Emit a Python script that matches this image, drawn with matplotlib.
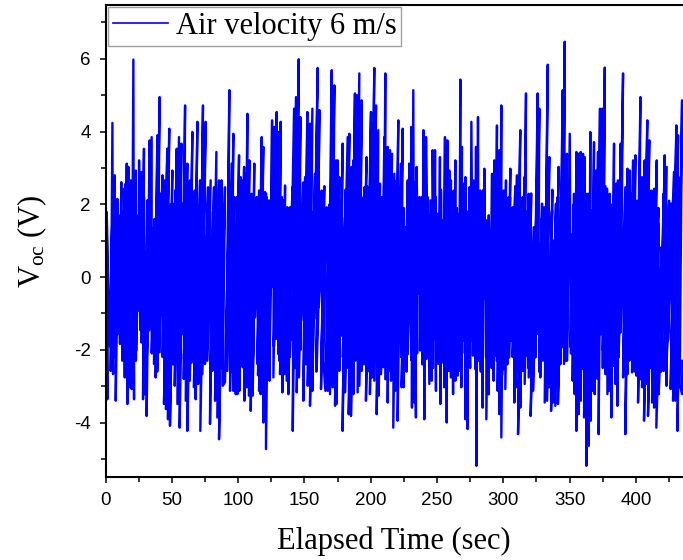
import numpy as np
import matplotlib
matplotlib.use("Agg")
import matplotlib.pyplot as plt
from matplotlib.ticker import MultipleLocator

# ======================================================
# DATOS (picos superiores e inferiores)
# ======================================================

t_up = [0.9, 5.2, 6.9, 8.9, 10.7, 11.9, 14.0, 15.2, 16.0, 17.2,
        19.0, 21.0, 22.8, 25.3, 27.0, 29.0, 31.5, 33.3, 34.8, 36.6,
        39.1, 40.8, 42.9, 44.9, 46.6, 48.1, 50.4, 51.7, 53.7, 55.4,
        57.2, 58.2, 60.0, 61.7, 63.7, 65.5, 67.3, 69.3, 71.3, 73.5,
        75.5, 77.3, 79.3, 81.8, 83.6, 85.6,
        87.6, 90.1, 93.4, 95.1, 96.4, 97.7, 98.9, 100.7, 101.9, 103.2,
        104.5, 105.7, 107.0, 108.5, 110.2, 112.2, 114.0, 115.8, 117.8, 119.0,
        120.3, 121.5, 123.3, 124.1, 125.6, 127.1, 129.1, 130.3, 132.1, 134.1,
        135.4, 137.1, 139.1, 140.9, 142.2, 143.7, 145.7, 147.0, 148.4, 150.5,
        152.2, 154.2, 156.0, 158.0, 160.0, 161.3, 163.0, 164.8, 166.8, 168.6,
        170.6, 172.6, 173.8,
        175.1, 176.3, 178.8, 180.6, 182.6, 183.9, 185.6, 186.9, 188.1, 189.6,
        191.4, 193.2, 195.2, 196.9, 198.2, 200.2, 201.5, 202.7, 204.0, 205.7,
        207.0, 208.2, 210.3, 211.0, 212.8, 214.5, 216.0, 217.8, 219.6, 220.8,
        222.8, 224.1, 225.8, 227.9, 229.1, 230.6, 232.1, 233.4, 234.6, 236.7,
        238.4, 239.7, 241.7, 242.9, 245.0, 246.7, 248.5, 250.5, 252.2, 254.2,
        256.0, 257.8, 259.3, 260.5,
        262.6, 263.8, 265.6, 267.6, 268.8, 270.1, 271.4, 272.6, 274.4, 275.9,
        277.6, 279.4, 280.9, 282.7, 284.4, 285.7, 287.2, 289.0, 291.5, 293.2,
        295.2, 297.0, 298.5, 300.3, 302.0, 304.0, 305.3, 307.1, 309.1, 310.3,
        312.8, 314.6, 315.9, 317.1, 319.1, 320.6, 322.9, 324.2, 325.9, 327.2,
        329.2, 330.9, 333.5, 334.7, 336.7, 338.0, 339.7, 341.7, 343.5, 344.8,
        346.3, 348.0,
        350.1, 351.8, 353.3, 355.1, 356.8, 358.4, 360.1, 361.4, 363.1, 364.4,
        365.6, 366.9, 368.4, 369.9, 371.4, 372.9, 374.7, 376.5, 378.2, 380.2,
        382.0, 383.5, 385.3, 386.5, 388.5, 390.3, 392.0, 393.6, 395.3, 396.6,
        397.8, 399.6, 401.6, 403.4, 404.6, 406.6, 408.6, 410.1, 411.6, 413.7,
        415.7, 417.2, 419.2, 421.7, 423.2, 425.0, 426.7, 428.7, 430.5, 431.8,
        433.5, 434.8]

v_up = [1.79, 4.24, 2.80, 2.15, 1.69, 2.61, 2.43, 2.57, 3.12, 3.03,
        2.66, 5.98, 2.93, 3.21, 2.89, 3.53, 2.11, 3.76, 3.85, 1.37,
        3.90, 4.95, 2.80, 2.66, 3.53, 4.08, 2.93, 2.02, 3.53, 3.85,
        3.67, 2.02, 4.72, 3.12, 2.66, 3.99, 2.38, 4.27, 2.66, 4.72,
        4.27, 2.47, 2.66, 2.47, 3.44, 2.66,
        2.66, 2.47, 5.14, 3.12, 3.94, 1.28, 2.20, 3.35, 2.75, 2.66,
        3.03, 2.84, 4.49, 3.21, 2.29, 3.12, 2.20, 2.38, 3.85, 3.58,
        2.34, 2.20, 2.11, 0.64, 4.31, 4.13, 4.54, 3.99, 4.27, 2.11,
        2.52, 1.92, 1.92, 2.47, 4.63, 4.95, 5.99, 4.40, 1.92, 2.75,
        4.54, 4.22, 4.63, 2.84, 5.75, 4.59, 2.38, 1.56, 1.92, 1.92,
        5.69, 5.27, 3.21,
        3.21, 2.75, 3.67, 1.65, 3.85, 3.94, 3.03, 3.21, 5.05, 5.00,
        5.60, 4.86, 2.47, 3.30, 2.47, 4.54, 4.22, 5.75, 4.72, 4.04,
        2.57, 2.20, 3.85, 5.60, 3.58, 3.49, 3.39, 2.84, 2.66, 4.31,
        3.12, 4.08, 1.37, 2.66, 3.12, 4.13, 5.14, 1.92, 3.03, 2.20,
        2.20, 4.04, 3.85, 2.20, 2.11, 3.49, 3.49, 1.74, 3.30, 1.56,
        3.85, 3.76, 2.93, 2.66,
        2.38, 3.21, 1.74, 5.43, 3.58, 2.57, 2.75, 1.65, 2.47, 4.27,
        2.66, 3.58, 4.40, 2.38, 2.02, 2.98, 1.56, 1.46, 2.84, 3.21,
        4.17, 3.49, 4.72, 2.38, 2.66, 2.20, 2.98, 1.92, 2.29, 2.80,
        4.04, 2.20, 2.75, 5.05, 2.29, 2.20, 1.37, 0.82, 5.05, 4.63,
        2.02, 1.92, 5.84, 3.30, 1.83, 1.00, 2.02, 3.03, 2.20, 5.14,
        6.47, 3.39,
        3.94, 1.19, 2.29, 3.44, 3.39, 3.44, 3.39, 3.30, 2.29, 2.29,
        3.99, 1.83, 3.71, 2.93, 3.44, 4.63, 4.63, 5.76, 2.43, 2.29,
        1.01, 3.67, 2.57, 2.66, 3.67, 5.60, 2.47, 2.98, 2.93, 2.02,
        3.21, 3.35, 1.10, 4.95, 2.75, 3.21, 4.31, 3.76, 2.38, 2.43,
        3.21, 1.46, 0.82, 3.35, 3.03, 2.02, 2.02, 2.89, 4.17, 3.90,
        2.75, 4.86]

t_lo = [0.1, 1.4, 3.9, 5.7, 7.7, 9.4, 10.9, 12.7, 14.5, 16.5,
        18.2, 19.7, 21.5, 23.3, 24.8, 26.5, 28.3, 29.5, 31.0, 32.8,
        34.8, 36.6, 37.8, 39.1, 40.8, 42.4, 44.1, 45.6, 47.1, 48.6,
        50.4, 52.2, 54.2, 55.9, 57.9, 59.2, 60.5, 61.7, 63.5, 65.0,
        66.7, 68.0, 69.8, 71.5, 73.0, 75.0, 76.8, 78.8, 80.6, 82.6,
        84.3, 85.6,
        88.4, 90.1, 91.9, 93.9, 95.1, 96.4, 98.2, 99.4, 100.9, 102.2,
        103.4, 104.7, 106.5, 108.2, 109.5, 111.0, 112.7, 114.5, 115.8, 117.0,
        119.0, 121.0, 122.3, 123.6, 125.3, 126.6, 128.6, 130.4, 131.6, 133.4,
        134.9, 136.6, 137.9, 139.1, 141.2, 142.9, 144.2, 145.9, 147.4, 149.2,
        151.0, 152.5, 154.2, 156.0, 157.5, 159.3, 160.8, 162.5, 164.3, 165.8,
        167.6, 169.3, 171.3, 173.1,
        174.3, 176.3, 177.6, 178.8, 180.6, 182.1, 183.4, 185.1, 186.9, 188.4,
        190.1, 191.4, 193.2, 194.7, 196.4, 197.9, 199.4, 201.0, 202.7, 204.5,
        206.0, 207.7, 209.5, 211.0, 212.8, 214.0, 215.3, 217.0, 218.5, 220.3,
        221.6, 223.3, 224.8, 226.6, 227.9, 229.6, 231.1, 232.9, 234.1, 235.9,
        237.2, 238.7, 240.4, 242.2, 244.2, 246.0, 247.5, 249.2, 251.0, 252.5,
        254.2, 255.5, 257.3, 258.8, 260.5,
        262.1, 263.8, 265.6, 266.8, 268.3, 270.1, 271.4, 273.1, 275.1, 277.1,
        278.9, 279.7, 281.4, 283.4, 284.4, 285.9, 287.2, 289.0, 290.7, 292.7,
        294.0, 295.7, 297.0, 298.5, 300.3, 301.5, 303.3, 304.5, 306.1, 308.3,
        309.6, 311.1, 312.8, 314.6, 316.1, 317.9, 319.1, 320.6, 322.4, 324.2,
        326.2, 327.9, 329.7, 331.2, 333.0, 334.7, 336.0, 337.5, 339.2, 341.2,
        342.2, 344.3, 345.8, 348.0,
        350.8, 352.3, 353.8, 355.1, 356.8, 358.4, 359.4, 360.9, 362.6, 364.4,
        365.9, 367.2, 368.9, 370.4, 371.9, 373.4, 375.2, 377.0, 378.5, 379.7,
        381.5, 383.0, 384.5, 386.0, 387.0, 388.5, 390.3, 392.0, 393.6, 395.3,
        397.1, 398.6, 400.3, 401.6, 403.4, 404.6, 406.1, 407.9, 409.1, 410.9,
        412.2, 413.7, 415.4, 417.2, 419.2, 421.0, 423.0, 424.2, 426.2, 428.0,
        429.7, 431.3, 433.0, 434.8]

v_lo = [-3.31, -3.36, -2.58, -2.67, -3.40, -1.57, -1.84, -2.30, -2.76, -3.49,
        -3.03, -3.08, -3.36, -2.02, -0.92, -1.47, -3.36, -3.22, -3.82, -1.47,
        -2.07, -2.39, -2.76, -2.48, -2.07, -1.01, -3.49, -3.63, -3.91, -4.09,
        -2.07, -2.99, -3.49, -4.14, -1.57, -2.25, -3.40, -4.23, -2.85, -2.35,
        -3.03, -3.36, -2.94, -4.23, -2.67, -2.39, -2.30, -4.04, -2.58, -3.40,
        -3.86, -4.46,
        -2.99, -2.89, -2.58, -3.13, -2.02, -3.13, -3.22, -3.22, -3.13, -1.70,
        -2.48, -3.40, -3.03, -3.26, -3.68, -3.26, -1.11, -2.39, -3.13, -3.22,
        -4.00, -4.73, -2.58, -2.85, -0.28, -2.76, -1.70, -2.12, -2.67, -3.17,
        -2.67, -2.85, -3.22, -1.75, -4.23, -1.75, -3.17, -2.76, -1.20, -3.40,
        -2.30, -2.99, -3.54, -3.13, -1.15, -2.48, -0.83, -3.08, -2.30, -3.13,
        -3.13, -3.22, -3.03, -3.54,
        -3.49, -2.58, -1.61, -4.23, -3.17, -2.16, -3.77, -3.82, -3.22, -2.30,
        -3.17, -2.99, -2.58, -1.29, -3.40, -2.12, -3.22, -2.76, -2.85, -3.77,
        -3.26, -2.67, -2.48, -2.81, -3.45, -2.58, -2.85, -4.14, -3.13, -3.95,
        -1.80, -3.03, -3.03, -2.58, -2.12, 0.18, -3.59, -3.45, -3.86, -0.46,
        -2.02, -1.80, -3.91, -2.25, -2.94, -2.85, -1.70, -3.13, -2.39, -3.49,
        -2.35, -3.03, -4.00, -2.58, -2.76,
        -3.22, -2.85, -2.71, -2.58, -3.03, -1.75, -3.91, -4.18, -1.75, -2.16,
        -2.53, -5.19, -2.30, -1.52, -3.59, -0.60, -3.91, -3.22, -1.75, -2.85,
        -2.16, -3.13, -3.77, -4.41, -2.53, -3.08, -0.92, -2.21, -1.75, -3.45,
        -3.03, -4.32, -3.59, -2.58, -2.94, -2.16, -2.76, -3.82, -3.13, -2.21,
        -1.57, -2.76, -2.30, -3.45, -3.40, -3.03, -3.68, -3.45, -3.54, -3.49,
        -1.93, -1.93, -2.39, -2.30,
        -1.93, -2.85, -3.22, -4.23, -3.77, -3.40, -2.53, -3.86, -5.19, -4.64,
        -3.95, -3.13, -3.22, -2.21, -4.32, -1.57, -2.02, -2.67, -3.22, -3.13,
        -3.86, -2.44, -2.94, -3.54, -0.51, -1.52, -2.76, -4.32, -2.67, -1.47,
        -2.62, -2.02, -2.71, -3.45, -2.81, -3.03, -3.95, -2.94, -3.82, -1.47,
        -3.45, -3.59, -4.14, -3.22, -2.02, -2.58, -2.99, -1.75, -3.08, -3.40,
        -3.40, -4.23, -2.94, -3.22]

# oscilaciones del nucleo denso (una cada 2 s, bordes de la banda solida)
t_mid = np.arange(1, 436, 2)
v_mid = [1.6, -1.9, 1.4, -2.2, 2.0, -1.7, 1.8, -2.4, 1.5, -2.0,
         2.1, -2.3, 1.7, -1.8, 2.2, -2.5, 1.9, -2.1, 1.6, -2.6,
         2.3, -2.2, 1.8, -2.7, 2.0, -2.4, 2.4, -2.0, 1.7, -2.8,
         2.1, -2.5, 2.2, -2.3, 1.9, -2.6, 2.5, -2.1, 2.0, -2.4,
         1.8, -2.2, 2.3, -2.5,
         2.0, -2.3, 1.7, -2.6, 2.2, -2.0, 1.9, -2.4, 2.4, -2.2,
         1.6, -2.5, 2.1, -2.7, 1.8, -2.1, 2.3, -2.4, 2.0, -1.9,
         2.5, -2.3, 2.2, -2.6, 1.9, -2.2, 2.4, -2.5, 2.1, -2.0,
         2.6, -2.4, 2.3, -2.2, 1.8, -2.6, 2.2, -2.3, 2.5, -2.1,
         2.0, -2.4, 2.3, -2.5,
         2.1, -2.2, 2.4, -2.5, 1.9, -2.3, 2.6, -2.0, 2.2, -2.4,
         2.5, -2.6, 2.0, -2.1, 2.3, -2.5, 1.8, -2.3, 2.4, -2.0,
         2.1, -2.4, 2.5, -2.2, 1.9, -2.6, 2.2, -2.3, 2.6, -2.1,
         2.0, -2.4, 2.3, -2.2, 1.7, -2.5, 2.2, -2.3, 2.4, -2.0,
         2.0, -2.2, 2.2, -2.4,
         1.9, -2.3, 2.3, -2.1, 1.8, -2.5, 2.2, -2.4, 2.0, -2.6,
         2.4, -2.2, 1.7, -2.5, 2.1, -2.3, 2.3, -2.7, 1.9, -2.4,
         2.2, -2.2, 2.5, -2.6, 2.0, -2.3, 1.8, -2.5, 2.3, -2.4,
         2.1, -2.6, 1.6, -2.2, 2.0, -2.5, 2.4, -2.7, 2.2, -2.4,
         1.9, -2.3, 2.3, -2.1,
         2.0, -2.2, 2.2, -2.5, 2.4, -2.7, 1.9, -2.6, 2.3, -2.8,
         2.1, -2.5, 2.5, -2.3, 2.0, -2.4, 2.2, -2.2, 2.6, -2.5,
         1.8, -2.3, 2.3, -2.6, 2.1, -2.4, 2.4, -2.2, 2.0, -2.5,
         2.2, -2.3, 1.9, -2.6, 2.3, -2.4, 2.1, -2.2, 2.0, -2.5,
         2.2, -2.3]

etiqueta = "Air velocity 6 m/s"

# ======================================================
# SERIE: orden en el tiempo, alternando signo dentro de 2.5 s
# ======================================================

t_all = np.concatenate([t_up, t_lo, t_mid])
v_all = np.concatenate([v_up, v_lo, v_mid])
orden = np.argsort(t_all, kind="stable")
t_rest = list(t_all[orden])
v_rest = list(v_all[orden])

t = []
v = []
signo_prev = 0
while t_rest:
    t0 = t_rest[0]
    elegido = 0
    for i in range(len(t_rest)):
        if t_rest[i] - t0 > 2.5:
            break
        if np.sign(v_rest[i]) != signo_prev:
            elegido = i
            break
    t.append(t_rest.pop(elegido))
    v.append(v_rest.pop(elegido))
    signo_prev = np.sign(v[-1])

# ======================================================
# FIGURA
# ======================================================

plt.rcParams["font.family"] = "Liberation Sans"
plt.rcParams["axes.unicode_minus"] = False
plt.rcParams["mathtext.fontset"] = "custom"
plt.rcParams["mathtext.rm"] = "Liberation Serif"
plt.rcParams["mathtext.it"] = "Liberation Serif:italic"

fig = plt.figure(figsize=(6.83, 5.60), dpi=100)
ax = fig.add_axes([0.1545, 0.148, 0.8455, 0.843])

ax.plot(t, v, color="#0000ff", linewidth=1.7, label=etiqueta)

ax.set_xlim(0, 435.5)
ax.set_ylim(-5.5, 7.48)

ax.xaxis.set_major_locator(MultipleLocator(50))
ax.xaxis.set_minor_locator(MultipleLocator(25))
ax.yaxis.set_major_locator(MultipleLocator(2))
ax.yaxis.set_minor_locator(MultipleLocator(1))

ax.tick_params(which="major", direction="out", length=4.5, width=1.1,
               labelsize=13.5, pad=6, colors="black")
ax.tick_params(which="minor", direction="out", length=3.3, width=1.1)
ax.tick_params(which="both", top=False, right=False)

for lado in ["left", "bottom", "top"]:
    ax.spines[lado].set_linewidth(1.5)
ax.spines["right"].set_visible(False)

ax.set_xlabel("Elapsed Time (sec)", fontfamily="Liberation Serif",
              fontsize=22, labelpad=13)
ax.set_ylabel(r"V$_{\mathrm{oc}}$ (V)", fontfamily="Liberation Serif",
              fontsize=22, labelpad=18)

leg = ax.legend(loc="upper left", prop={"family": "Liberation Serif", "size": 22},
                fancybox=False, framealpha=1, edgecolor="#a0a0a0",
                handlelength=1.83, handletextpad=0.25,
                borderpad=0.15, borderaxespad=0.08)
leg.get_frame().set_linewidth(1.0)
for linea in leg.get_lines():
    linea.set_linewidth(1.2)

fig.savefig("out.png", dpi=100)
